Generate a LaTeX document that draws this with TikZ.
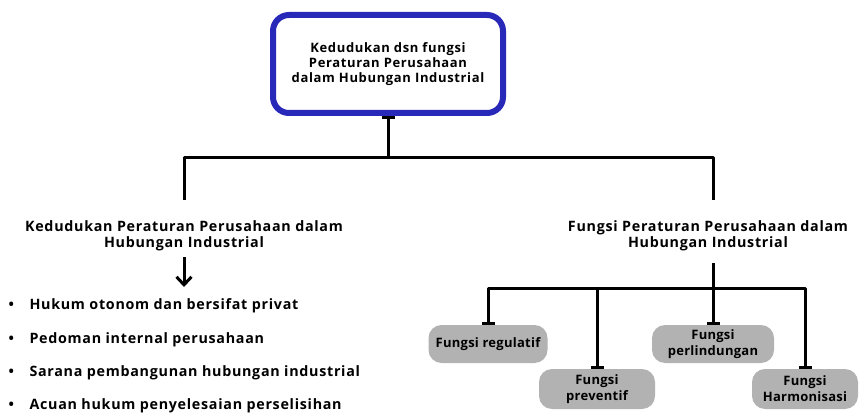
\documentclass[tikz,border=0pt]{standalone}
\usepackage{fontspec}
\setmainfont{Open Sans}[BoldFont={* Bold}]
\newfontfamily\widefont{Open Sans}[UprightFont={* Bold}, LetterSpace=5]
\newfontfamily\topfont{Open Sans}[UprightFont={* Bold}, LetterSpace=5]
\newfontfamily\boxfont{Open Sans}[UprightFont={* Bold}, LetterSpace=2]
\usetikzlibrary{arrows.meta}
\definecolor{boxblue}{RGB}{40,40,185}
\definecolor{boxgray}{RGB}{178,178,178}
\tikzset{
  conn/.style={line width=3pt, line join=round},
  teeend/.style={-{Bar[width=13pt,line width=3pt]}},
  topbox/.style={draw=boxblue, line width=6pt, fill=white, rounded corners=16pt,
    minimum width=230pt, minimum height=98pt, align=center,
    font=\topfont\fontsize{13}{15}\selectfont},
  heading/.style={align=center, font=\widefont\fontsize{14.3}{16.5}\selectfont},
  bul/.style={anchor=west, font=\widefont\fontsize{14.3}{15}\selectfont},
  fbox/.style={fill=boxgray, rounded corners=13pt, align=center, inner sep=2pt,
    font=\boxfont\fontsize{13}{16}\selectfont}
}
\begin{document}
\begin{tikzpicture}[x=1pt,y=-1pt]
\useasboundingbox (0,0) rectangle (859,414);
\node[topbox] (top) at (388,64) {Kedudukan dsn fungsi\\Peraturan Perusahaan\\dalam Hubungan Industrial};
\coordinate (j) at (388,158);
\node[heading] (lh) at (184,236) {Kedudukan Peraturan Perusahaan dalam\\Hubungan Industrial};
\node[heading] (rh) at (708,236) {Fungsi Peraturan Perusahaan dalam\\Hubungan Industrial};
\coordinate (lt) at (184,200);
\coordinate (rt) at (713,200);
\draw[conn, {Bar[width=13pt,line width=3pt]}-] (top.south) -- (j);
\draw[conn] (lt) -- (184,158) -- (713,158) -- (rt);
% down arrow
\coordinate (arrEnd) at (184,287);
\draw[line width=3pt, -{Straight Barb[length=8pt,width=15pt,line width=3pt]}] (184,257) -- (arrEnd);
% bullets
\node[bul] (b1) at (5,306) {\makebox[21pt][l]{•}Hukum otonom dan bersifat privat};
\node[bul] (b2) at (5,340) {\makebox[21pt][l]{•}Pedoman internal perusahaan};
\node[bul] (b3) at (5,373) {\makebox[21pt][l]{•}Sarana pembangunan hubungan industrial};
\node[bul] (b4) at (5,406) {\makebox[21pt][l]{•}Acuan hukum penyelesaian perselisihan};
% function boxes
\node[fbox, minimum width=119pt, minimum height=38pt] (reg) at (488,344) {Fungsi regulatif};
\node[fbox, minimum width=116pt, minimum height=40pt] (pre) at (597,389) {Fungsi\\preventif};
\node[fbox, minimum width=122pt, minimum height=38pt] (per) at (713,344) {Fungsi\\perlindungan};
\node[fbox, minimum width=106pt, minimum height=40pt] (har) at (805,389) {Fungsi\\Harmonisasi};
\coordinate (rb) at (713,263);
\coordinate (hj) at (713,288);
\draw[conn] (rb) -- (hj);
\draw[conn, {Bar[width=13pt,line width=3pt]}-{Bar[width=13pt,line width=3pt]}] (reg.north) -- (488,288) -- (805,288) -- (har.north);
\draw[conn, teeend] (597,288) -- (pre.north);
\draw[conn, teeend] (hj) -- (per.north);
\end{tikzpicture}
\end{document}
